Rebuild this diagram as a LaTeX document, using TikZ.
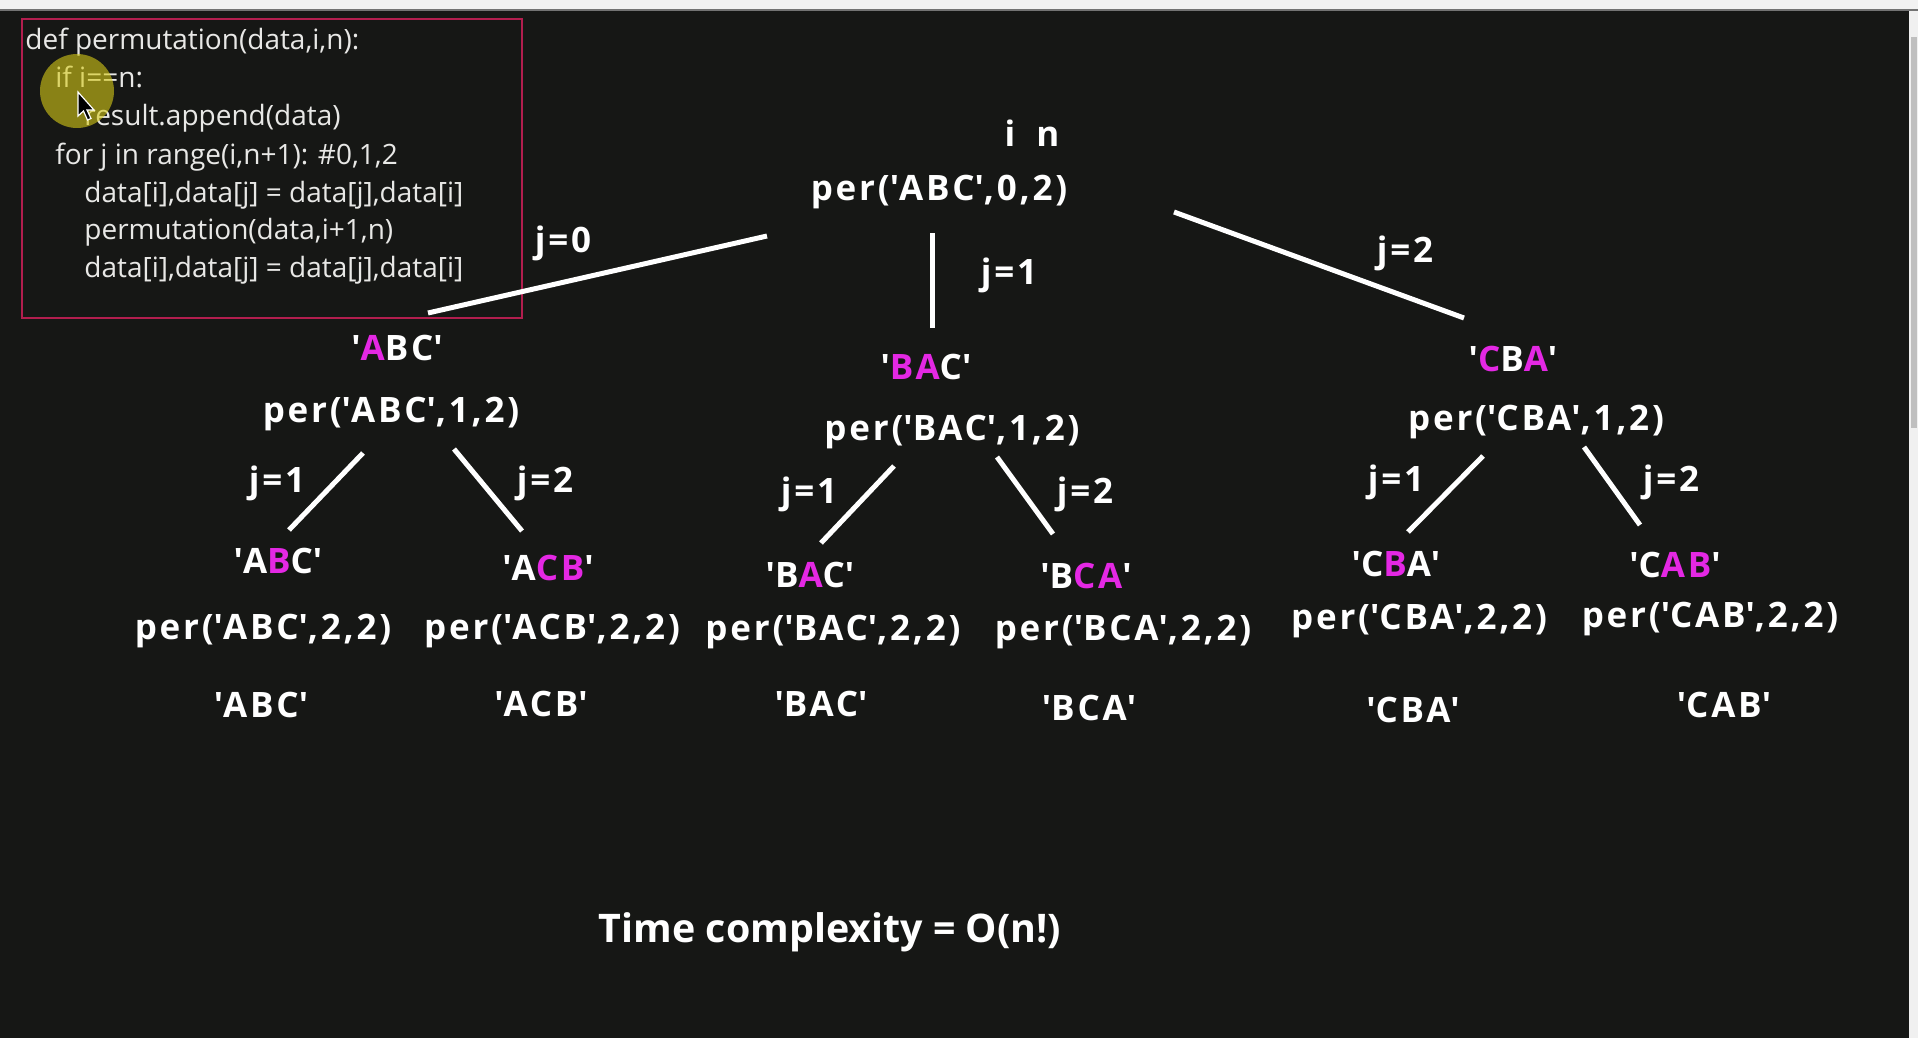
\documentclass[tikz,border=0pt]{standalone}
\usepackage{fontspec}
\setmainfont{Open Sans}
\newfontfamily\treefont{Open Sans}[LetterSpace=8]
\usepackage{xcolor}
\usetikzlibrary{positioning}

\definecolor{bgdark}{RGB}{22,23,21}
\definecolor{pinkhl}{RGB}{228,40,228}
\definecolor{boxred}{RGB}{178,30,78}
\definecolor{codegray}{RGB}{232,232,230}
\definecolor{cursorhl}{RGB}{214,202,24}

\newcommand{\mg}[1]{\textcolor{pinkhl}{#1}}
\newcommand{\sq}{\textquotesingle}

\begin{document}
\begin{tikzpicture}[
    x=0.5pt, y=-0.5pt,
    code/.style={
        anchor=base west,
        inner sep=0pt,
        text=codegray,
        font=\fontsize{14pt}{17pt}\selectfont
    },
    treetxt/.style={
        anchor=base,
        inner sep=0pt,
        text=white,
        font=\treefont\bfseries\fontsize{17.5pt}{20pt}\selectfont
    },
    edge/.style={draw=white, line width=2.5pt}
]

% screen
\fill[bgdark] (0,0) rectangle (1918,1038);
\fill[white!95!black] (0,0) rectangle (1918,9);
\fill[black!55] (0,9) rectangle (1918,11);
\fill[white!94!black] (1909,11) rectangle (1918,1038);
\fill[black!25] (1911,37) rectangle (1917,428);

% code
\draw[boxred, line width=1pt] (22,19) rectangle (522,318);
\node[code] (c1) at (25,50) {def permutation(data,i,n):};
\node[code] (c2) at (55,88) {if i==n:};
\node[code] (c3) at (84,126) {result.append(data)};
\node[code] (c4) at (55,164) {for j in range(i,n+1): \#0,1,2};
\node[code] (c5) at (84,202) {data[i],data[j] = data[j],data[i]};
\node[code] (c6) at (84,240) {permutation(data,i+1,n)};
\node[code] (c7) at (84,278) {data[i],data[j] = data[j],data[i]};
\fill[cursorhl, opacity=0.6] (77,91) circle (18.5pt);
\filldraw[fill=black, draw=white, line width=0.6pt]
    (78,92) -- (78,116) -- (83.5,111) -- (87.5,120) -- (91,118.5)
    -- (87,110) -- (94,110) -- cycle;

% tree
\node[treetxt] (idx) at (1032,147) {i\hspace{10.5pt}n};
\node[treetxt] (root) at (939,200) {per(\sq ABC\sq,0,2)};

\node[treetxt] (s1) at (397,360) {\sq\mg{A}BC\sq};
\node[treetxt] (p1) at (391,422) {per(\sq ABC\sq,1,2)};
\node[treetxt] (s2) at (926,379) {\sq\mg{BA}C\sq};
\node[treetxt] (p2) at (952,440) {per(\sq BAC\sq,1,2)};
\node[treetxt] (s3) at (1513,371) {\sq\mg{C}B\mg{A}\sq};
\node[treetxt] (p3) at (1536,430) {per(\sq CBA\sq,1,2)};

\node[treetxt] (s11) at (278,573) {\sq A\mg{B}C\sq};
\node[treetxt] (p11) at (263,639) {per(\sq ABC\sq,2,2)};
\node[treetxt] (r11) at (261,717) {\sq ABC\sq};
\node[treetxt] (s12) at (548,580) {\sq A\mg{CB}\sq};
\node[treetxt] (p12) at (552,639) {per(\sq ACB\sq,2,2)};
\node[treetxt] (r12) at (541,716) {\sq ACB\sq};

\node[treetxt] (s21) at (810,587) {\sq B\mg{A}C\sq};
\node[treetxt] (p21) at (833,640) {per(\sq BAC\sq,2,2)};
\node[treetxt] (r21) at (821,716) {\sq BAC\sq};
\node[treetxt] (s22) at (1086,588) {\sq B\mg{CA}\sq};
\node[treetxt] (p22) at (1123,640) {per(\sq BCA\sq,2,2)};
\node[treetxt] (r22) at (1089,720) {\sq BCA\sq};

\node[treetxt] (s31) at (1396,576) {\sq C\mg{B}A\sq};
\node[treetxt] (p31) at (1419,629) {per(\sq CBA\sq,2,2)};
\node[treetxt] (r31) at (1413,722) {\sq CBA\sq};
\node[treetxt] (s32) at (1675,577) {\sq C\mg{AB}\sq};
\node[treetxt] (p32) at (1710,627) {per(\sq CAB\sq,2,2)};
\node[treetxt] (r32) at (1724,717) {\sq CAB\sq};

% j labels
\node[treetxt] (j0) at (563,252) {j=0};
\node[treetxt] (j1) at (1009,285) {j=1};
\node[treetxt] (j2) at (1405,262) {j=2};
\node[treetxt] (j11) at (277,492) {j=1};
\node[treetxt] (j12) at (545,492) {j=2};
\node[treetxt] (j21) at (809,503) {j=1};
\node[treetxt] (j22) at (1085,503) {j=2};
\node[treetxt] (j31) at (1396,491) {j=1};
\node[treetxt] (j32) at (1671,491) {j=2};

% edges
\draw[edge] ([shift={(31,-47)}]s1.base) -- ([shift={(-172,36)}]root.base);
\draw[edge] ([shift={(-7,33)}]root.base) -- ([shift={(6,-51)}]s2.base);
\draw[edge] ([shift={(235,12)}]root.base) -- ([shift={(-49,-53)}]s3.base);
\draw[edge] ([shift={(-28,31)}]p1.base) -- ([shift={(11,-43)}]s11.base);
\draw[edge] ([shift={(63,27)}]p1.base) -- ([shift={(-26,-49)}]s12.base);
\draw[edge] ([shift={(-58,26)}]p2.base) -- ([shift={(11,-44)}]s21.base);
\draw[edge] ([shift={(45,17)}]p2.base) -- ([shift={(-33,-54)}]s22.base);
\draw[edge] ([shift={(-53,26)}]p3.base) -- ([shift={(12,-44)}]s31.base);
\draw[edge] ([shift={(48,17)}]p3.base) -- ([shift={(-35,-52)}]s32.base);

\node[anchor=base, inner sep=0pt, text=white,
    font=\bfseries\fontsize{19.7pt}{22pt}\selectfont] (tc) at (830,942)
    {Time complexity = O(n!)};

\end{tikzpicture}
\end{document}
